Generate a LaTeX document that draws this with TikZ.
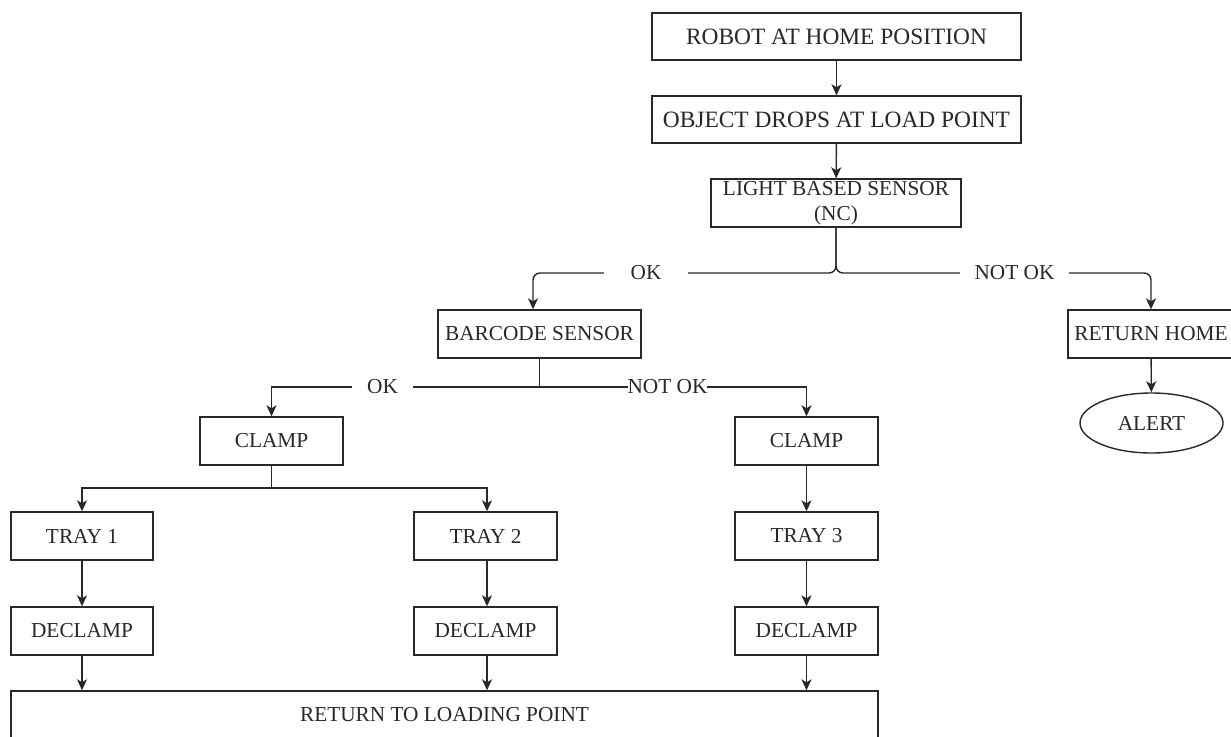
\documentclass[tikz,border=0pt]{standalone}
\usepackage{fontspec}
\setmainfont{Liberation Serif}
\usetikzlibrary{arrows.meta,shapes.geometric,calc}
\definecolor{ink}{RGB}{40,40,40}
\tikzset{
  box/.style={draw=ink, line width=1.4pt, fill=white, inner sep=0pt, text=ink,
    minimum height=48pt, font=\fontsize{21.3pt}{25pt}\selectfont, align=center},
  bigbox/.style={box, minimum width=369pt, minimum height=47pt, font=\fontsize{23.4pt}{26pt}\selectfont},
  smallbox/.style={box, minimum width=143pt},
  oval/.style={box, ellipse, minimum width=143pt, minimum height=60pt},
  conn/.style={draw=ink, line width=1.4pt, -{Stealth[length=11pt,width=10pt,inset=3pt]}},
  plain/.style={draw=ink, line width=1.4pt},
  lbl/.style={fill=white, inner sep=0pt, text=ink, minimum height=20pt, font=\fontsize{21.3pt}{25pt}\selectfont}
}
\begin{document}
\begin{tikzpicture}[x=1pt,y=-1pt]
\useasboundingbox (0,0) rectangle (1231,736);
\clip (0,0) rectangle (1231,736);
\fill[white] (0,0) rectangle (1231,736);

% nodes
\node[bigbox] (home) at (836.5,36.5) {ROBOT AT HOME POSITION};
\node[bigbox] (drop) at (836.5,119.5) {OBJECT DROPS AT LOAD POINT};
\node[box, minimum width=250pt] (lbs) at (836,203) {LIGHT BASED SENSOR\\(NC)};
\node[box, minimum width=203pt] (bar) at (539.5,334) {BARCODE SENSOR};
\node[box, minimum width=166pt] (rh) at (1151,334) {RETURN HOME};
\node[oval] (alert) at (1151.5,423) {ALERT};
\node[smallbox] (clampL) at (271.5,441) {CLAMP};
\node[smallbox] (clampR) at (806.5,441) {CLAMP};
\node[smallbox, minimum width=142pt] (tray1) at (82,536) {TRAY 1};
\node[smallbox] (tray2) at (485.5,536) {TRAY 2};
\node[smallbox] (tray3) at (806.5,536) {TRAY 3};
\node[smallbox, minimum width=142pt] (dec1) at (82,631) {DECLAMP};
\node[smallbox] (dec2) at (485.5,631) {DECLAMP};
\node[smallbox] (dec3) at (806.5,631) {DECLAMP};
\node[box, minimum width=867pt] (ret) at (444.5,715) {RETURN TO LOADING POINT};

% junction coordinates
\coordinate (j1) at (836,273);
\coordinate (bin) at ($(bar.north)+(-6.5,0)$);
\coordinate (j2) at (539.5,387);
\coordinate (j3) at (271.5,488);

% connectors
\draw[conn] (home) -- (drop);
\draw[conn] (drop) -- (lbs);
\draw[conn, rounded corners=7pt] (lbs.south) |- (bin |- j1) -- (bin);
\draw[conn, rounded corners=7pt] (lbs.south) |- (rh.north |- j1) -- (rh.north);
\draw[conn] (rh) -- (alert);

\draw[plain] (bar.south) -- (j2);
\draw[conn] (j2) -| (clampL.north);
\draw[conn] (j2) -| (clampR.north);

\draw[plain] (clampL.south) -- (j3);
\draw[conn] (j3) -| (tray1.north);
\draw[conn] (j3) -| ($(tray2.north)+(1.5,0)$);

\draw[conn] (tray1) -- (dec1);
\draw[conn] ($(tray2.south)+(1.5,0)$) -- ($(dec2.north)+(1.5,0)$);
\draw[conn] (clampR) -- (tray3);
\draw[conn] (tray3) -- (dec3);

\draw[conn] (dec1.south) -- (dec1.south |- ret.north);
\draw[conn] ($(dec2.south)+(1.5,0)$) -- ($(dec2.south |- ret.north)+(1.5,0)$);
\draw[conn] (dec3.south) -- (dec3.south |- ret.north);

% labels
\node[lbl, minimum width=84pt] (ok1) at (646,273) {OK};
\node[lbl, minimum width=109pt] (nok1) at (1014.5,273) {NOT OK};
\node[lbl, minimum width=61pt] (ok2) at (382.5,387) {OK};
\node[lbl] (nok2) at (667.5,387) {NOT OK};
\end{tikzpicture}
\end{document}
